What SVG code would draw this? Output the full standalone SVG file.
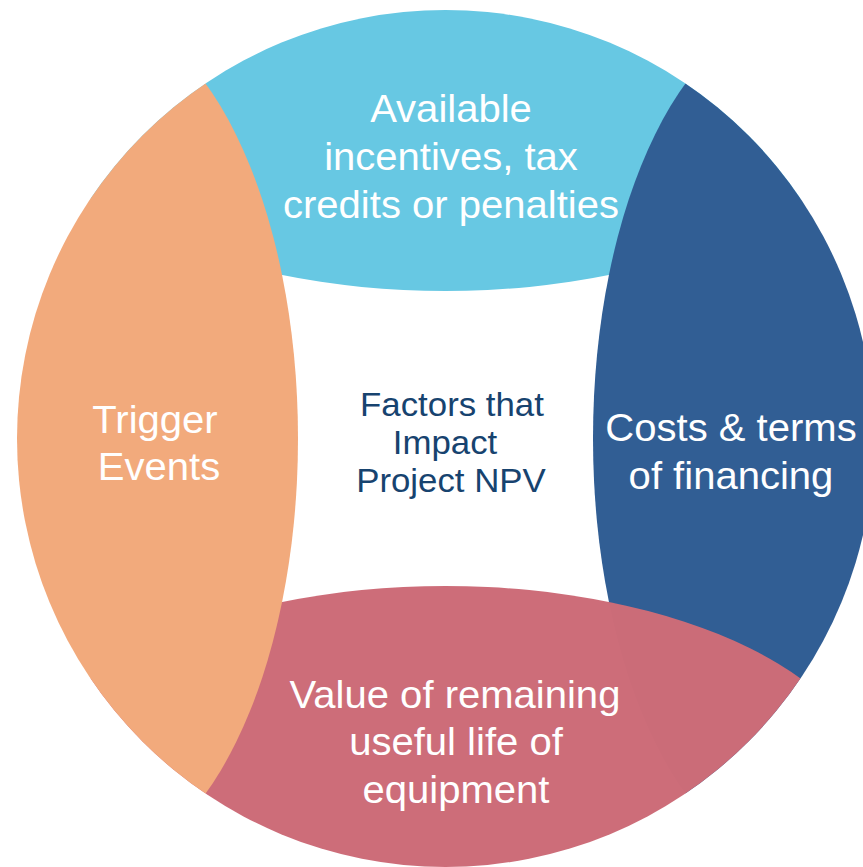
<svg xmlns="http://www.w3.org/2000/svg" width="863" height="867" viewBox="0 0 863 867">
  <style>
    text { transform-box: fill-box; transform-origin: center; transform: scaleX(1.04); }
    .lbl { font-family: "Liberation Sans", Arial, sans-serif; font-size: 38.5px; fill: #ffffff; text-anchor: middle; }
    .hub { font-family: "Liberation Sans", Arial, sans-serif; font-size: 33.5px; fill: #17436f; text-anchor: middle; }
  </style>
  <defs>
    <!-- outer disc that bounds all four segments -->
    <clipPath id="disc">
      <circle cx="445.5" cy="438.5" r="428.5"/>
    </clipPath>
  </defs>
  <rect width="863" height="867" fill="#ffffff"/>

  <g clip-path="url(#disc)">
    <g id="incentives">
      <ellipse cx="445.5" cy="79" rx="430" ry="212" fill="#67c8e3"/>
      <text class="lbl" x="451" y="122">Available</text>
      <text class="lbl" x="451" y="170">incentives, tax</text>
      <text class="lbl" x="451" y="218">credits or penalties</text>
    </g>
    <g id="financing">
      <ellipse cx="805" cy="438.5" rx="212" ry="430" fill="#315e94"/>
      <text class="lbl" x="731" y="441.5">Costs &amp; terms</text>
      <text class="lbl" x="731" y="489">of financing</text>
    </g>
    <g id="equipment">
      <ellipse cx="445.5" cy="798" rx="430" ry="212" fill="#cd6c78" fill-opacity="0.993"/>
      <text class="lbl" x="455" y="708">Value of remaining</text>
      <text class="lbl" x="456" y="755.5">useful life of</text>
      <text class="lbl" x="456" y="803">equipment</text>
    </g>
    <g id="triggers">
      <ellipse cx="86" cy="438.5" rx="212" ry="430" fill="#f2aa7c"/>
      <text class="lbl" x="155" y="433">Trigger</text>
      <text class="lbl" x="159" y="480">Events</text>
    </g>
  </g>

  <g id="center">
    <text class="hub" x="452" y="416">Factors that</text>
    <text class="hub" x="445" y="454">Impact</text>
    <text class="hub" x="451" y="492">Project NPV</text>
  </g>
</svg>
